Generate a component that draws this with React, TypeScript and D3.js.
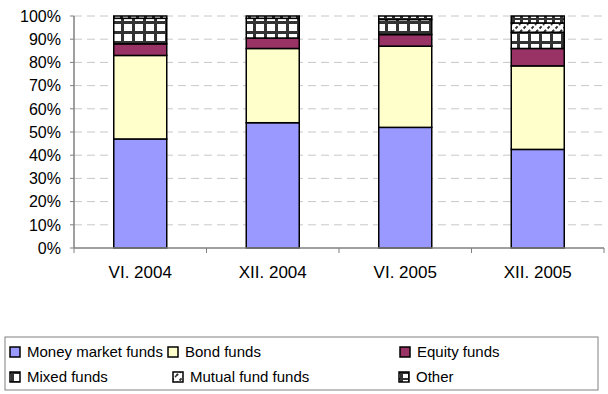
import React from "react";
import * as d3 from "d3";

const categories = ["VI. 2004", "XII. 2004", "VI. 2005", "XII. 2005"];
const seriesNames = ["Money market funds", "Bond funds", "Equity funds", "Mixed funds", "Mutual fund funds", "Other"];
const moneyMarket = [47, 54, 52, 42.5];
const bond = [36, 32, 35, 36];
const equity = [5, 4.5, 5, 7.5];
const mixed = [11, 8.5, 6.5, 7];
const mutualFund = [0, 0, 0, 4];
const other = [1, 1, 1.5, 3];
const yTicks = [0, 10, 20, 30, 40, 50, 60, 70, 80, 90, 100];

const seriesValues = [moneyMarket, bond, equity, mixed, mutualFund, other];
const fills = ["#9999ff", "#ffffcc", "#993366", "url(#pMixed)", "url(#pMutual)", "url(#pOther)"];

const W = 608, H = 394;
const left = 74, right = 604, top = 16, bottom = 248;

export default function App() {
  const x = d3.scaleBand().domain(categories).range([left, right]).paddingInner(0.6).paddingOuter(0.3);
  const xb = d3.scaleBand().domain(categories).range([left, right]);
  const y = d3.scaleLinear().domain([0, 100]).range([bottom, top]);
  const rows = categories.map((c, i) => {
    const r: any = { cat: c };
    seriesNames.forEach((s, k) => (r[s] = seriesValues[k][i]));
    return r;
  });
  const stacked = d3.stack().keys(seriesNames)(rows);
  const font = "'Liberation Sans', Arial, sans-serif";

  const legendItems = [
    { k: 0, x: 10, y: 352 },
    { k: 1, x: 168, y: 352 },
    { k: 2, x: 400, y: 352 },
    { k: 3, x: 10, y: 377 },
    { k: 4, x: 173, y: 377 },
    { k: 5, x: 399, y: 377 },
  ];

  return (
    <svg width={W} height={H} style={{ position: "absolute", left: 0, top: 0 }} fontFamily={font}>
      <defs>
        <pattern id="pMixed" width="11" height="10" patternUnits="userSpaceOnUse" x={0} y={1}>
          <rect width="11" height="10" fill="#ffffff" />
          <rect x="0" y="0" width="11" height="3" fill="#333333" />
          <rect x="0" y="0" width="3" height="10" fill="#333333" />
        </pattern>
        <pattern id="pMutual" width="8" height="8" patternUnits="userSpaceOnUse">
          <rect width="8" height="8" fill="#ffffff" />
          <path d="M0,8 L8,0 M-2,2 L2,-2 M6,10 L10,6" stroke="#333333" strokeWidth="2" strokeDasharray="3,2" />
        </pattern>
        <pattern id="pOther" width="8" height="6" patternUnits="userSpaceOnUse">
          <rect width="8" height="6" fill="#ffffff" />
          <rect x="0" y="0" width="3" height="6" fill="#333333" />
          <rect x="0" y="0" width="8" height="2" fill="#333333" />
        </pattern>
      </defs>
      <rect width={W} height={H} fill="#ffffff" />
      {/* gridlines */}
      {yTicks.filter((t) => t > 0).map((t) => (
        <line key={t} x1={left} x2={right} y1={y(t)} y2={y(t)} stroke="#c8c8c8" strokeWidth={1} strokeDasharray="8,5" />
      ))}
      {/* bars */}
      {stacked.map((layer, k) =>
        layer.map((d, i) => {
          const h = y(d[0]) - y(d[1]);
          if (h <= 0) return null;
          return (
            <rect key={`${k}-${i}`} x={x(categories[i])} y={y(d[1])} width={x.bandwidth()} height={h}
              fill={fills[k]} stroke="#000000" strokeWidth={1.5} />
          );
        })
      )}
      {/* y axis */}
      <line x1={left} x2={left} y1={top} y2={bottom} stroke="#808080" strokeWidth={1.5} />
      {yTicks.map((t) => (
        <g key={t}>
          <line x1={left - 4} x2={left} y1={y(t)} y2={y(t)} stroke="#808080" />
          <text x={left - 13} y={y(t)} dy="0.36em" textAnchor="end" fontSize={16} fill="#000">{t}%</text>
        </g>
      ))}
      {/* x axis */}
      <line x1={left} x2={right} y1={bottom} y2={bottom} stroke="#808080" strokeWidth={1.5} />
      {categories.map((c, i) => (
        <line key={"t" + i} x1={xb(c)! + xb.bandwidth()} x2={xb(c)! + xb.bandwidth()} y1={bottom} y2={bottom + 5} stroke="#808080" />
      ))}
      <line x1={left} x2={left} y1={bottom} y2={bottom + 5} stroke="#808080" />
      {categories.map((c) => (
        <text key={c} x={xb(c)! + xb.bandwidth() / 2} y={278} textAnchor="middle" fontSize={17} fill="#000">{c}</text>
      ))}
      {/* legend */}
      <rect x={5} y={337} width={593} height={53} fill="#ffffff" stroke="#808080" strokeWidth={1} />
      {legendItems.map(({ k, x: lx, y: ly }) => (
        <g key={k}>
          <rect x={lx} y={ly - 5} width={10} height={10} fill={fills[k]} stroke="#000" strokeWidth={1.5} />
          <text x={lx + 17} y={ly} dy="0.35em" fontSize={15} fill="#000">{seriesNames[k]}</text>
        </g>
      ))}
    </svg>
  );
}
